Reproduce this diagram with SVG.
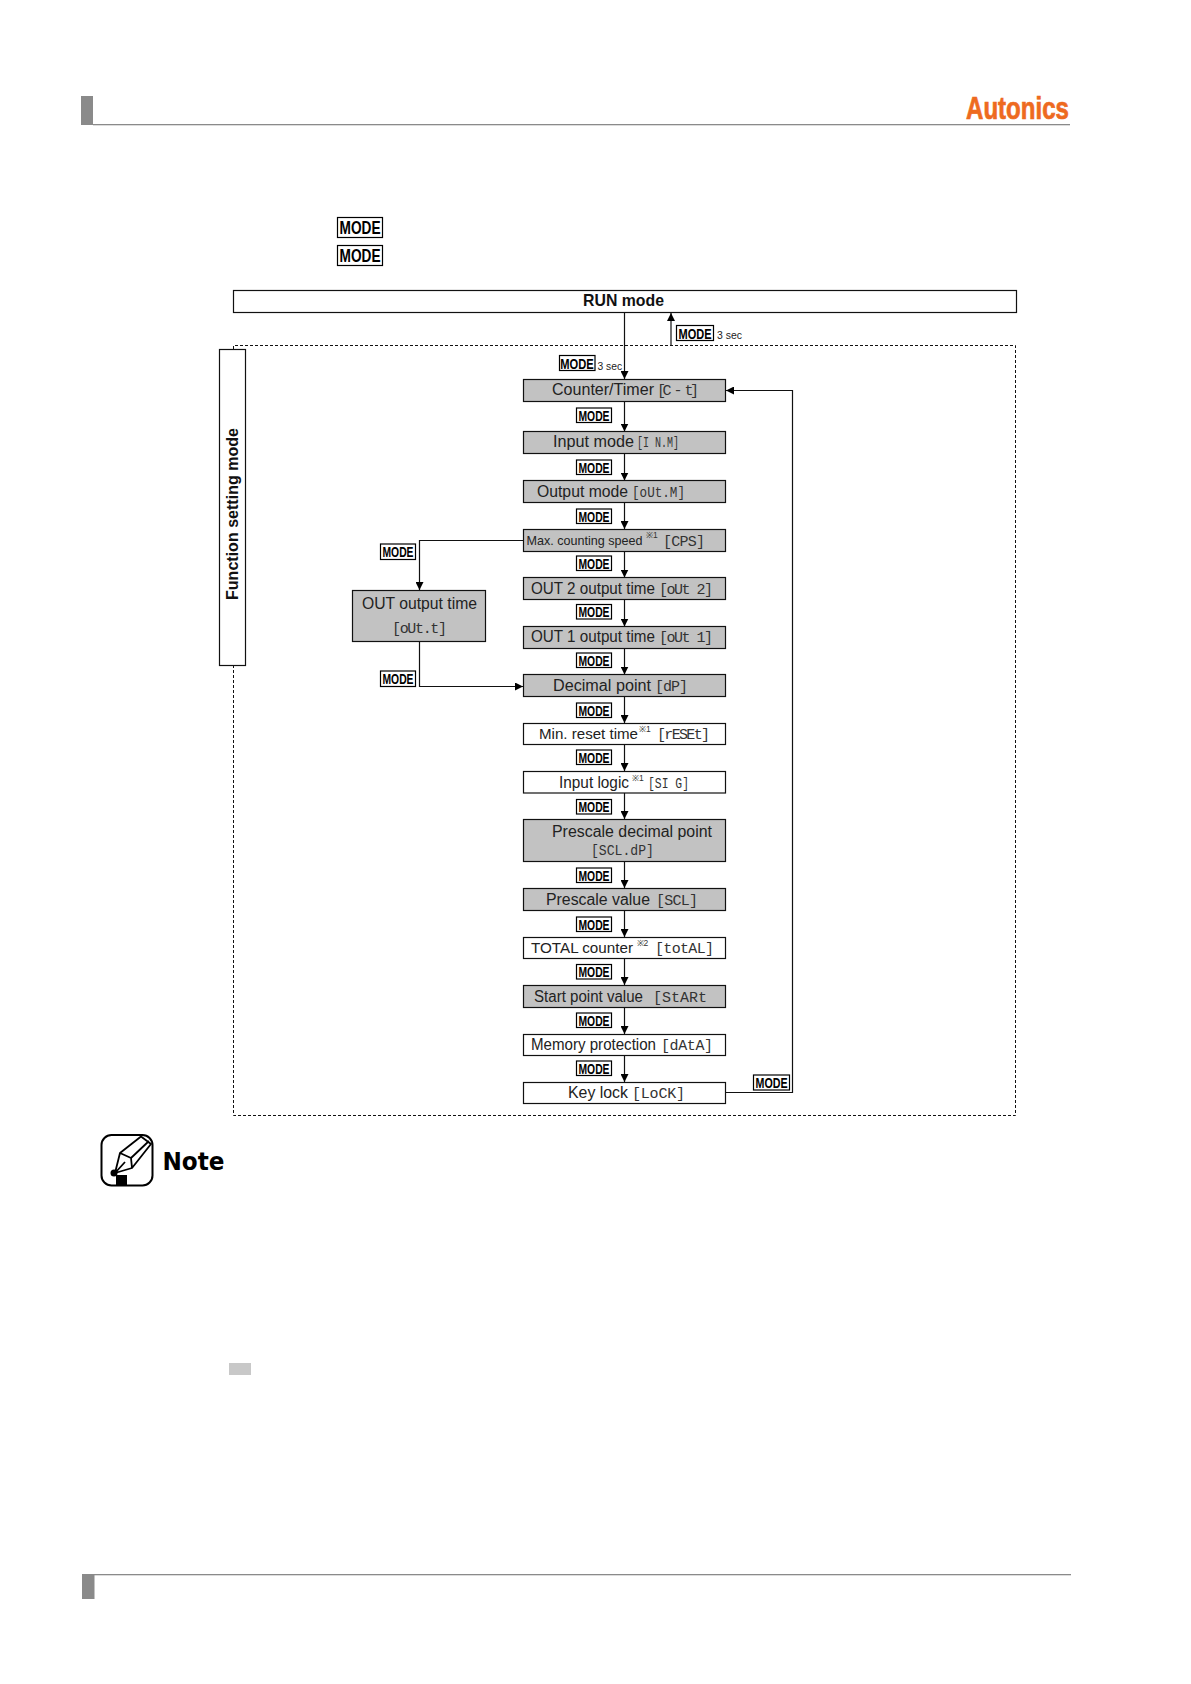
<svg xmlns="http://www.w3.org/2000/svg" width="1191" height="1684" viewBox="0 0 1191 1684">
<style>
.box{stroke:#111;stroke-width:1.2;fill:#fff}
.g{fill:#c2c2c2}
.t{font-family:"Liberation Sans",Arial,sans-serif;font-size:16px;fill:#222}
.seg{font-family:"Liberation Mono","DejaVu Sans Mono",monospace;font-size:15px;fill:#333}
.sup{font-family:"Liberation Sans",Arial,sans-serif;font-size:8.500px;fill:#333}
.mb{fill:#fff;stroke:#000;stroke-width:1.2}
.m{font-family:"Liberation Sans",Arial,sans-serif;font-weight:700;font-size:15.500px;fill:#000;text-anchor:middle}
.sec{font-family:"Liberation Sans",Arial,sans-serif;font-size:10.500px;fill:#222}
.c{fill:none;stroke:#111;stroke-width:1.2}
.d{fill:none;stroke:#111;stroke-width:1;stroke-dasharray:3 2}
</style>
<defs>
<marker id="a" markerUnits="userSpaceOnUse" markerWidth="9" markerHeight="8" refX="8" refY="4" orient="auto"><path d="M0 0L8 4L0 8z" fill="#000"/></marker>
</defs>
<rect width="1191" height="1684" fill="#fff"/>
<g id="header">
<rect x="81" y="96" width="12" height="29" fill="#8a8a8a"/>
<rect x="93" y="124" width="977" height="1.3" fill="#8a8a8a"/>
<text x="966" y="119" font-family="Liberation Sans,Arial,sans-serif" font-weight="700" font-size="31" fill="#ee6a1f" stroke="#ee6a1f" stroke-width="0.7" textLength="103" lengthAdjust="spacingAndGlyphs">Autonics</text>
</g>
<g id="footer">
<rect x="82" y="1574" width="12.500" height="25" fill="#8a8a8a"/>
<rect x="94" y="1574" width="977" height="1.3" fill="#8a8a8a"/>
</g>
<g id="top-mode-keys">
<rect class="mb" x="337.500" y="217.500" width="45" height="20"/><text class="m" x="360" y="233.500" style="font-size:19px" textLength="41" lengthAdjust="spacingAndGlyphs">MODE</text>
<rect class="mb" x="337.500" y="245.500" width="45" height="20"/><text class="m" x="360" y="261.500" style="font-size:19px" textLength="41" lengthAdjust="spacingAndGlyphs">MODE</text>
</g>
<g id="frame">
<path class="d" d="M233.500 349V345.500H1015.500V1115.500H233.500V666"/>
</g>
<g id="connectors">
<path class="c" d="M624.500 312.500V379" marker-end="url(#a)"/>
<path class="c" d="M671 345V313" marker-end="url(#a)"/>
<path class="c" d="M624.500 401V431.500" marker-end="url(#a)"/>
<path class="c" d="M624.500 453.500V480.500" marker-end="url(#a)"/>
<path class="c" d="M624.500 502.500V529" marker-end="url(#a)"/>
<path class="c" d="M624.500 551.500V577.500" marker-end="url(#a)"/>
<path class="c" d="M624.500 599.500V626.500" marker-end="url(#a)"/>
<path class="c" d="M624.500 648.500V674.500" marker-end="url(#a)"/>
<path class="c" d="M624.500 696.500V723" marker-end="url(#a)"/>
<path class="c" d="M624.500 744.500V771" marker-end="url(#a)"/>
<path class="c" d="M624.500 793V819" marker-end="url(#a)"/>
<path class="c" d="M624.500 861.500V888" marker-end="url(#a)"/>
<path class="c" d="M624.500 910.500V937" marker-end="url(#a)"/>
<path class="c" d="M624.500 958.500V985" marker-end="url(#a)"/>
<path class="c" d="M624.500 1007.500V1034" marker-end="url(#a)"/>
<path class="c" d="M624.500 1055.500V1082" marker-end="url(#a)"/>
<path class="c" d="M523.500 540.500H419.500V590" marker-end="url(#a)"/>
<path class="c" d="M419.500 641.500V686.500H523" marker-end="url(#a)"/>
<path class="c" d="M726 1092.500H792.500V390.500H726" marker-end="url(#a)"/>
</g>
<g id="run-mode">
<rect class="box" x="233.500" y="290.500" width="783" height="22"/>
<text x="583" y="306" font-family="Liberation Sans,Arial,sans-serif" font-weight="700" font-size="16.500" fill="#111" textLength="81" lengthAdjust="spacingAndGlyphs">RUN mode</text>
</g>
<g id="function-setting-mode">
<rect class="box" x="219.500" y="349.500" width="26" height="316"/>
<text transform="translate(238 600) rotate(-90)" font-family="Liberation Sans,Arial,sans-serif" font-weight="700" font-size="16.500" fill="#111" textLength="172" lengthAdjust="spacingAndGlyphs">Function setting mode</text>
</g>
<g id="n-counter-timer"><rect class="box g" x="523.500" y="379.500" width="202" height="22"/><text class="t" x="552" y="395" textLength="102" lengthAdjust="spacingAndGlyphs">Counter/Timer</text><text class="seg" x="657" y="395" textLength="42">[C - t]</text></g>
<g id="n-input-mode"><rect class="box g" x="523.500" y="431.500" width="202" height="22"/><text class="t" x="553" y="447" textLength="81" lengthAdjust="spacingAndGlyphs">Input mode</text><text class="seg" x="637" y="447" textLength="42" lengthAdjust="spacingAndGlyphs">[I N.M]</text></g>
<g id="n-output-mode"><rect class="box g" x="523.500" y="480.500" width="202" height="22"/><text class="t" x="537" y="496.500" textLength="91" lengthAdjust="spacingAndGlyphs">Output mode</text><text class="seg" x="632" y="496.500" textLength="53" lengthAdjust="spacingAndGlyphs">[oUt.M]</text></g>
<g id="n-max-counting-speed"><rect class="box g" x="523.500" y="529.500" width="202" height="22"/><text class="t" x="526.500" y="545" style="font-size:13px" textLength="116" lengthAdjust="spacingAndGlyphs">Max. counting speed</text><text class="sup" x="646" y="537.500">※1</text><text class="seg" x="663" y="545.500" textLength="42">[CPS]</text></g>
<g id="n-out2"><rect class="box g" x="523.500" y="577.500" width="202" height="22"/><text class="t" x="531" y="593.500" textLength="124" lengthAdjust="spacingAndGlyphs">OUT 2 output time</text><text class="seg" x="659" y="593.500" textLength="54">[oUt 2]</text></g>
<g id="n-out1"><rect class="box g" x="523.500" y="626.500" width="202" height="22"/><text class="t" x="531" y="642" textLength="124" lengthAdjust="spacingAndGlyphs">OUT 1 output time</text><text class="seg" x="659" y="642" textLength="54">[oUt 1]</text></g>
<g id="n-decimal-point"><rect class="box g" x="523.500" y="674.500" width="202" height="22"/><text class="t" x="553" y="691" textLength="98" lengthAdjust="spacingAndGlyphs">Decimal point</text><text class="seg" x="655" y="691" textLength="33">[dP]</text></g>
<g id="n-min-reset"><rect class="box" x="523.500" y="723.500" width="202" height="21"/><text class="t" x="539" y="739" style="font-size:15px" textLength="99" lengthAdjust="spacingAndGlyphs">Min. reset time</text><text class="sup" x="639" y="732">※1</text><text class="seg" x="657" y="739" textLength="53">[rESEt]</text></g>
<g id="n-input-logic"><rect class="box" x="523.500" y="771.500" width="202" height="21.500"/><text class="t" x="559" y="787.500" textLength="70" lengthAdjust="spacingAndGlyphs">Input logic</text><text class="sup" x="632" y="780.500">※1</text><text class="seg" x="648" y="787.500" textLength="41" lengthAdjust="spacingAndGlyphs">[SI G]</text></g>
<g id="n-prescale-dp"><rect class="box g" x="523.500" y="819.500" width="202" height="42"/><text class="t" x="552" y="836.500" textLength="160" lengthAdjust="spacingAndGlyphs">Prescale decimal point</text><text class="seg" x="591" y="855" textLength="63" lengthAdjust="spacingAndGlyphs">[SCL.dP]</text></g>
<g id="n-prescale-value"><rect class="box g" x="523.500" y="888.500" width="202" height="22"/><text class="t" x="546" y="905" textLength="104" lengthAdjust="spacingAndGlyphs">Prescale value</text><text class="seg" x="656" y="905" textLength="42">[SCL]</text></g>
<g id="n-total"><rect class="box" x="523.500" y="937.500" width="202" height="21"/><text class="t" x="531" y="953" style="font-size:15px" textLength="102" lengthAdjust="spacingAndGlyphs">TOTAL counter</text><text class="sup" x="636.500" y="946">※2</text><text class="seg" x="655" y="953" textLength="59">[totAL]</text></g>
<g id="n-start"><rect class="box g" x="523.500" y="985.500" width="202" height="22"/><text class="t" x="534" y="1001.500" textLength="109" lengthAdjust="spacingAndGlyphs">Start point value</text><text class="seg" x="653" y="1001.500" textLength="54">[StARt</text></g>
<g id="n-memory"><rect class="box" x="523.500" y="1034.500" width="202" height="21"/><text class="t" x="531" y="1049.500" textLength="125" lengthAdjust="spacingAndGlyphs">Memory protection</text><text class="seg" x="661" y="1049.500" textLength="52">[dAtA]</text></g>
<g id="n-key-lock"><rect class="box" x="523.500" y="1082.500" width="202" height="21"/><text class="t" x="568" y="1098" textLength="60" lengthAdjust="spacingAndGlyphs">Key lock</text><text class="seg" x="632" y="1098" textLength="53">[LoCK]</text></g>
<g id="n-out-time"><rect class="box g" x="352.500" y="590.500" width="133" height="51"/><text class="t" x="362" y="609" textLength="115" lengthAdjust="spacingAndGlyphs">OUT output time</text><text class="seg" x="392" y="632.500" textLength="55">[oUt.t]</text></g>
<g id="mode-keys">
<rect class="mb" x="676.500" y="325.500" width="37" height="15"/><text class="m" x="695" y="338.500" textLength="33" lengthAdjust="spacingAndGlyphs">MODE</text>
<text class="sec" x="717" y="339" textLength="25" lengthAdjust="spacingAndGlyphs">3 sec</text>
<rect class="mb" x="559.500" y="355.500" width="35.500" height="15"/><text class="m" transform="translate(577 368.500) scale(.72 1)" x="0" y="0">MODE</text>
<text class="sec" transform="translate(597.500 370) scale(.98 1)" x="0" y="0">3 sec</text>
<rect class="mb" x="576.500" y="408" width="35" height="14.500"/><text class="m" x="594" y="420.500" textLength="31" lengthAdjust="spacingAndGlyphs">MODE</text>
<rect class="mb" x="576.500" y="460" width="35" height="14.500"/><text class="m" x="594" y="472.500" textLength="31" lengthAdjust="spacingAndGlyphs">MODE</text>
<rect class="mb" x="576.500" y="509" width="35" height="14.500"/><text class="m" x="594" y="521.500" textLength="31" lengthAdjust="spacingAndGlyphs">MODE</text>
<rect class="mb" x="576.500" y="556" width="35" height="14.500"/><text class="m" x="594" y="568.500" textLength="31" lengthAdjust="spacingAndGlyphs">MODE</text>
<rect class="mb" x="576.500" y="604.500" width="35" height="14.500"/><text class="m" x="594" y="617" textLength="31" lengthAdjust="spacingAndGlyphs">MODE</text>
<rect class="mb" x="576.500" y="653" width="35" height="14.500"/><text class="m" x="594" y="665.500" textLength="31" lengthAdjust="spacingAndGlyphs">MODE</text>
<rect class="mb" x="576.500" y="703" width="35" height="14.500"/><text class="m" x="594" y="715.500" textLength="31" lengthAdjust="spacingAndGlyphs">MODE</text>
<rect class="mb" x="576.500" y="750" width="35" height="14.500"/><text class="m" x="594" y="762.500" textLength="31" lengthAdjust="spacingAndGlyphs">MODE</text>
<rect class="mb" x="576.500" y="799.500" width="35" height="14.500"/><text class="m" x="594" y="812" textLength="31" lengthAdjust="spacingAndGlyphs">MODE</text>
<rect class="mb" x="576.500" y="868" width="35" height="14.500"/><text class="m" x="594" y="880.500" textLength="31" lengthAdjust="spacingAndGlyphs">MODE</text>
<rect class="mb" x="576.500" y="917" width="35" height="14.500"/><text class="m" x="594" y="929.500" textLength="31" lengthAdjust="spacingAndGlyphs">MODE</text>
<rect class="mb" x="576.500" y="964.500" width="35" height="14.500"/><text class="m" x="594" y="977" textLength="31" lengthAdjust="spacingAndGlyphs">MODE</text>
<rect class="mb" x="576.500" y="1013" width="35" height="14.500"/><text class="m" x="594" y="1025.500" textLength="31" lengthAdjust="spacingAndGlyphs">MODE</text>
<rect class="mb" x="576.500" y="1061" width="35" height="14.500"/><text class="m" x="594" y="1073.500" textLength="31" lengthAdjust="spacingAndGlyphs">MODE</text>
<rect class="mb" x="753.500" y="1075" width="36" height="15"/><text class="m" x="771.500" y="1088" textLength="32" lengthAdjust="spacingAndGlyphs">MODE</text>
<rect class="mb" x="380.500" y="544" width="35" height="15.500"/><text class="m" x="398" y="557" textLength="31" lengthAdjust="spacingAndGlyphs">MODE</text>
<rect class="mb" x="380.500" y="671" width="35" height="15.500"/><text class="m" x="398" y="684" textLength="31" lengthAdjust="spacingAndGlyphs">MODE</text>
</g>
<g id="note">
<rect x="101.500" y="1135" width="51" height="50.500" rx="10" fill="#fff" stroke="#000" stroke-width="2"/>
<path d="M120 1153L141 1136.500L151 1144L132 1168L115 1173zM120 1153L131 1158L132 1168M131 1158L149 1141M115 1173L125 1162" fill="#fff" stroke="#000" stroke-width="1.800" stroke-linejoin="round"/>
<circle cx="114" cy="1173" r="3.500" fill="#000"/>
<rect x="116" y="1175" width="11" height="10" fill="#000"/>
<text x="162.500" y="1170" font-family="DejaVu Sans,sans-serif" font-weight="700" font-size="25" fill="#000" textLength="62" lengthAdjust="spacingAndGlyphs">Note</text>
</g>
<rect id="gray-mark" x="229" y="1363" width="22" height="12" fill="#c8c8c8"/>
</svg>
